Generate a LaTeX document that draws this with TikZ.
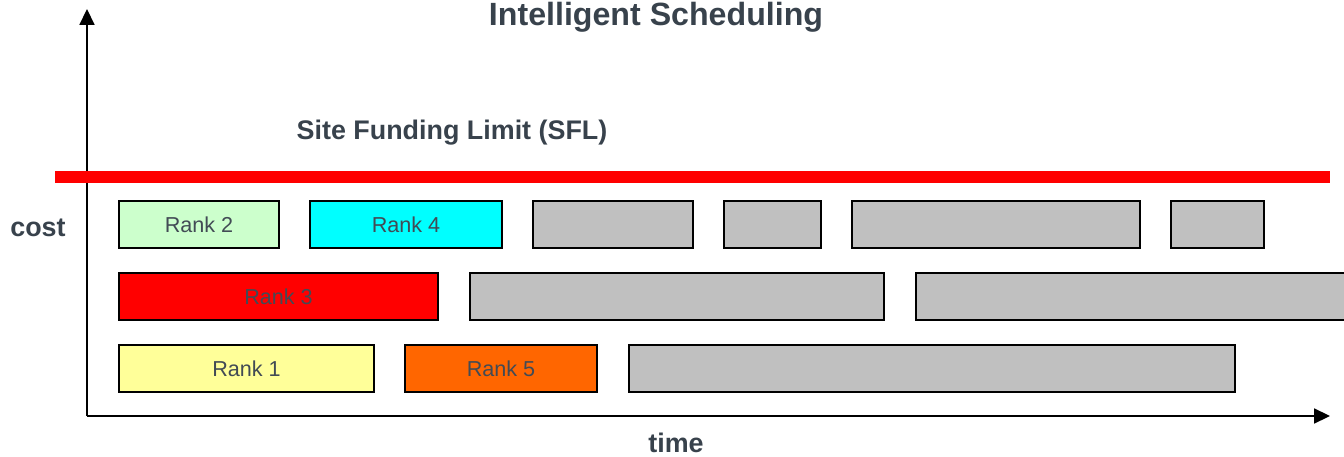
\documentclass[tikz,border=0pt]{standalone}
\usepackage{fontspec}
\setmainfont{Liberation Sans}
\usepackage{tikz}
\usepackage{xcolor}
\usetikzlibrary{arrows.meta}

\definecolor{inkgray}{HTML}{38424C}
\definecolor{rankgreen}{HTML}{CCFFCC}
\definecolor{rankcyan}{HTML}{00FFFF}
\definecolor{rankyellow}{HTML}{FFFF99}
\definecolor{rankorange}{HTML}{FF6600}
\definecolor{idlegray}{HTML}{C0C0C0}

\tikzset{
  slot/.style={draw=black, line width=1.1pt, minimum height=0.94cm, inner sep=0pt,
    text=inkgray!95, font=\fontsize{12.3}{14}\selectfont},
  heading/.style={text=inkgray, font=\bfseries\fontsize{15.3}{17}\selectfont},
  axis/.style={line width=0.9pt, -{Triangle[length=9pt,width=8.5pt]}}
}

\begin{document}
\begin{tikzpicture}
\useasboundingbox (0,0) rectangle (26.88,9.12);
% axes
\coordinate (O) at (1.74,0.80);
\coordinate (ytop) at (1.74,8.94);
\coordinate (xend) at (26.6,0.80);
\draw[axis] (O) -- (ytop);
\draw[axis] (O) -- (xend);
% funding limit
\coordinate (sflL) at (1.10,5.58);
\coordinate (sflR) at (26.6,5.58);
\draw[red, line width=6.8pt] (sflL) -- (sflR);
% labels
\node[heading, font=\bfseries\fontsize{18.3}{20}\selectfont] (title) at (13.12,8.78) {Intelligent Scheduling};
\node[heading] (sfl) at (9.04,6.46) {Site Funding Limit (SFL)};
\node[heading] (cost) at (0.76,4.56) {cost};
\node[heading] (time) at (13.52,0.26) {time};
% top row
\node[slot, fill=rankgreen, minimum width=3.2cm] (r2) at (3.98,4.63) {Rank 2};
\node[slot, fill=rankcyan, minimum width=3.84cm] (r4) at (8.12,4.63) {Rank 4};
\node[slot, fill=idlegray, minimum width=3.2cm] (g1) at (12.26,4.63) {};
\node[slot, fill=idlegray, minimum width=1.94cm] (g2) at (15.45,4.63) {};
\node[slot, fill=idlegray, minimum width=5.76cm] (g3) at (19.92,4.63) {};
\node[slot, fill=idlegray, minimum width=1.86cm] (g4) at (24.35,4.63) {};
% middle row
\node[slot, fill=red, minimum width=6.38cm] (r3) at (5.57,3.19) {Rank 3};
\node[slot, fill=idlegray, minimum width=8.28cm] (g5) at (13.54,3.19) {};
\node[slot, fill=idlegray, minimum width=8.88cm] (g6) at (22.76,3.19) {};
% bottom row
\node[slot, fill=rankyellow, minimum width=5.10cm] (r1) at (4.93,1.75) {Rank 1};
\node[slot, fill=rankorange, minimum width=3.84cm] (r5) at (10.02,1.75) {Rank 5};
\node[slot, fill=idlegray, minimum width=12.12cm] (g7) at (18.64,1.75) {};
\end{tikzpicture}
\end{document}
